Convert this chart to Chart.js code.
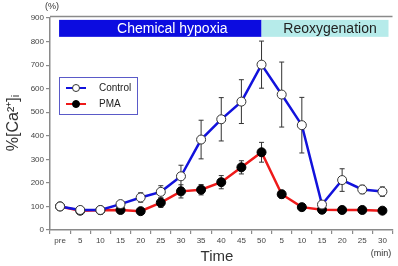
<!DOCTYPE html>
<html>
<head>
<meta charset="utf-8">
<script src="https://cdn.jsdelivr.net/npm/chart.js@4"></script>
<style>
  html, body { margin: 0; padding: 0; background: #fff; }
  #wrap { width: 398px; height: 266px; }
</style>
</head>
<body>
<div id="wrap"><canvas id="c" width="398" height="266"></canvas></div>
<script>
// ---------------- DATA ----------------
const timeLabels = ["pre", "5", "10", "15", "20", "25", "30", "35", "40", "45", "50",
                    "5", "10", "15", "20", "25", "30"];

const controlMean = [100, 85, 85, 110, 138, 162, 228, 384, 470, 545, 702, 575, 445, 108, 212, 172, 163];
const controlErr  = [0, 0, 0, 14, 20, 26, 47, 82, 92, 93, 100, 138, 118, 0, 48, 18, 20];

const pmaMean = [100, 82, 84, 85, 80, 116, 164, 171, 203, 266, 330, 152, 97, 86, 85, 85, 82];
const pmaErr  = [0, 0, 0, 0, 0, 20, 28, 22, 28, 28, 42, 16, 0, 0, 0, 0, 0];

const phaseNames = ["Chemical hypoxia", "Reoxygenation"];
const phaseEnd = 10; // index of "50"

const yTicks = [0, 100, 200, 300, 400, 500, 600, 700, 800, 900];

const FONT = "'Liberation Sans', Arial, sans-serif";
const GREY = "#8a8a8a";

// ---------------- PLUGINS ----------------
const errorBars = {
  id: "errorBars",
  beforeDatasetsDraw(chart) {
    const ctx = chart.ctx;
    const xs = chart.scales.x, ys = chart.scales.y;
    const sets = [[controlMean, controlErr], [pmaMean, pmaErr]];
    ctx.save();
    ctx.strokeStyle = "#333";
    ctx.lineWidth = 1;
    sets.forEach(([m, e]) => {
      m.forEach((v, i) => {
        if (!e[i]) return;
        const x = xs.getPixelForValue(i);
        const y1 = ys.getPixelForValue(v + e[i]);
        const y2 = ys.getPixelForValue(v - e[i]);
        ctx.beginPath();
        ctx.moveTo(x, y1); ctx.lineTo(x, y2);
        ctx.moveTo(x - 2.5, y1); ctx.lineTo(x + 2.5, y1);
        ctx.moveTo(x - 2.5, y2); ctx.lineTo(x + 2.5, y2);
        ctx.stroke();
      });
    });
    ctx.restore();
  }
};

const decor = {
  id: "decor",
  beforeDatasetsDraw(chart) {
    const ctx = chart.ctx;
    const xs = chart.scales.x, ys = chart.scales.y;
    const a = chart.chartArea;
    ctx.save();

    // top frame line
    ctx.strokeStyle = GREY;
    ctx.lineWidth = 1.5;
    ctx.beginPath();
    ctx.moveTo(a.left, a.top - 1.5);
    ctx.lineTo(a.right, a.top - 1.5);
    ctx.stroke();

    // phase bands
    const yTop = ys.getPixelForValue(892);
    const yBot = ys.getPixelForValue(820);
    const x0 = xs.getPixelForValue(0) - 1;
    const x1 = xs.getPixelForValue(phaseEnd);
    const x2 = a.right - 4;
    ctx.fillStyle = "#0c0ce0";
    ctx.fillRect(x0, yTop, x1 - x0, yBot - yTop);
    ctx.fillStyle = "#b6ebea";
    ctx.fillRect(x1, yTop, x2 - x1, yBot - yTop);
    ctx.font = "14px " + FONT;
    ctx.textAlign = "center";
    ctx.textBaseline = "middle";
    ctx.fillStyle = "#fff";
    ctx.fillText(phaseNames[0], (x0 + x1) / 2 + 12, (yTop + yBot) / 2 + 1);
    ctx.fillStyle = "#222";
    ctx.fillText(phaseNames[1], (x1 + x2) / 2 + 5, (yTop + yBot) / 2 + 1);

    // legend
    const lx = a.left + 9, ly = 77;
    ctx.fillStyle = "#fff";
    ctx.fillRect(lx, ly, 78, 37);
    ctx.strokeStyle = "#5a5ac8";
    ctx.lineWidth = 1;
    ctx.strokeRect(lx + 0.5, ly + 0.5, 78, 37);
    chart.data.datasets.forEach((ds, i) => {
      const yy = ly + 11 + i * 16;
      ctx.strokeStyle = ds.borderColor;
      ctx.lineWidth = 2;
      ctx.beginPath();
      ctx.moveTo(lx + 7, yy); ctx.lineTo(lx + 27, yy);
      ctx.stroke();
      ctx.beginPath();
      ctx.arc(lx + 17, yy, 3.5, 0, Math.PI * 2);
      ctx.fillStyle = ds.pointBackgroundColor;
      ctx.fill();
      ctx.strokeStyle = ds.pointBorderColor;
      ctx.lineWidth = 1;
      ctx.stroke();
      ctx.fillStyle = "#222";
      ctx.font = "10px " + FONT;
      ctx.textAlign = "left";
      ctx.fillText(ds.label, lx + 40, yy);
    });

    // axis texts
    ctx.fillStyle = "#333";
    ctx.font = "9px " + FONT;
    ctx.textAlign = "center";
    ctx.fillText("(%)", 52, 7);
    ctx.fillText("(min)", 381, 254);
    ctx.font = "15px " + FONT;
    ctx.fillText("Time", 217, 257);

    ctx.translate(14, 123);
    ctx.rotate(-Math.PI / 2);
    ctx.font = "16px " + FONT;
    ctx.fillText("%[Ca\u00B2\u207A]\u1D62", 0, 0);
    ctx.restore();
  }
};

// ---------------- CHART ----------------
const ctx = document.getElementById("c").getContext("2d");

new Chart(ctx, {
  type: "line",
  data: {
    labels: timeLabels,
    datasets: [
      {
        label: "Control",
        data: controlMean,
        borderColor: "#1212dc",
        borderWidth: 2.5,
        pointRadius: 4.5,
        pointBackgroundColor: "#fff",
        pointBorderColor: "#333",
        pointBorderWidth: 1,
        tension: 0
      },
      {
        label: "PMA",
        data: pmaMean,
        borderColor: "#ee1a1a",
        borderWidth: 2.5,
        pointRadius: 4.5,
        pointBackgroundColor: "#000",
        pointBorderColor: "#000",
        pointBorderWidth: 1,
        tension: 0
      }
    ]
  },
  options: {
    responsive: false,
    animation: false,
    layout: { padding: { top: 18, right: 1, left: 0, bottom: 0 } },
    plugins: {
      legend: { display: false },
      tooltip: { enabled: false }
    },
    scales: {
      x: {
        offset: true,
        grid: { offset: true, drawOnChartArea: false, color: GREY, tickLength: 4, lineWidth: 1.2 },
        border: { color: GREY, width: 1.5 },
        ticks: { color: "#444", font: { size: 8, family: FONT }, padding: 2, maxRotation: 0, autoSkip: false },
        afterFit(s) { s.height = 36; }
      },
      y: {
        min: 0,
        max: 900,
        afterBuildTicks(s) { s.ticks = yTicks.map(v => ({ value: v })); },
        grid: { drawOnChartArea: false, color: GREY, tickLength: 4, lineWidth: 1.2 },
        border: { color: GREY, width: 1.5 },
        ticks: { color: "#444", font: { size: 8, family: FONT }, padding: 2 },
        afterFit(s) { s.width = 50; }
      }
    }
  },
  plugins: [decor, errorBars]
});
</script>
</body>
</html>
